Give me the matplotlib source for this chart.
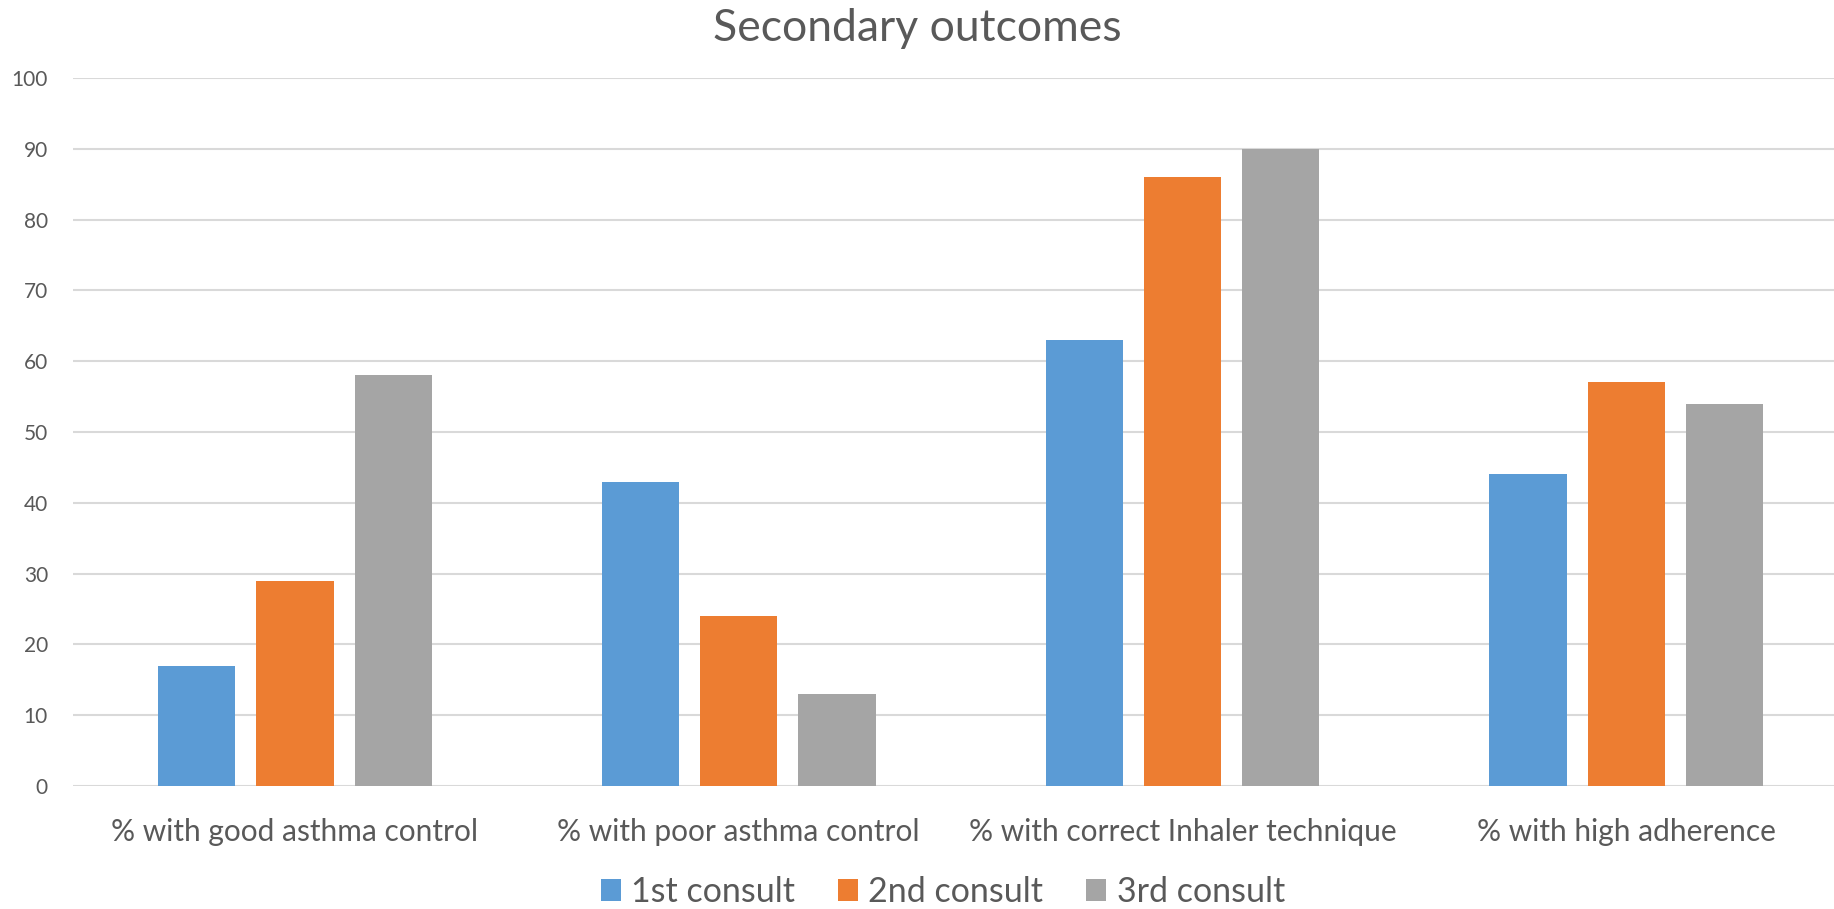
import numpy as np
import matplotlib.pyplot as plt

# Secondary outcome percentages per consult
categories = ["% with good asthma control", "% with poor asthma control",
              "% with correct Inhaler technique", "% with high adherence"]
series_names = ["1st consult", "2nd consult", "3rd consult"]
first = [17, 43, 63, 44]
second = [29, 24, 86, 57]
third = [58, 13, 90, 54]
yticks = [0, 10, 20, 30, 40, 50, 60, 70, 80, 90, 100]

colors = ["#5B9BD5", "#ED7D31", "#A5A5A5"]
text_color = "#595959"

plt.rcParams['font.family'] = ['Lato', 'DejaVu Sans']

fig = plt.figure(figsize=(18.34, 9.09), dpi=100)
# plot area runs slightly past the right edge
ax = fig.add_axes([0.0398, 0.1353, 0.968, 0.7789])

x = np.arange(len(categories))
step = 0.2215
width = 0.174
for j, (vals, name) in enumerate(zip([first, second, third], series_names)):
    ax.bar(x + (j - 1) * step, vals, width, color=colors[j], label=name, zorder=3)

ax.set_xlim(-0.5, 3.5)
ax.set_ylim(0, 100)
ax.set_yticks(yticks)
ax.set_xticks(x)
ax.set_xticklabels(categories)
ax.yaxis.grid(True, color="#D9D9D9", linewidth=1.5, zorder=0)
ax.set_axisbelow(True)
for s in ax.spines.values():
    s.set_visible(False)
ax.tick_params(axis='y', length=0, pad=18, labelsize=15, labelcolor=text_color)
ax.tick_params(axis='x', length=0, pad=23, labelsize=21.5, labelcolor=text_color)

fig.text(0.5, 0.969, "Secondary outcomes", ha='center', va='center',
         fontsize=32, color=text_color)

fig.legend(loc='center', bbox_to_anchor=(0.514, 0.019), ncol=3, frameon=False,
           fontsize=24.5, labelcolor=text_color, handlelength=0.6, handleheight=0.6,
           handletextpad=0.3, columnspacing=1.25, borderpad=0.05)

fig.savefig("out.png", dpi=100, facecolor="white")
